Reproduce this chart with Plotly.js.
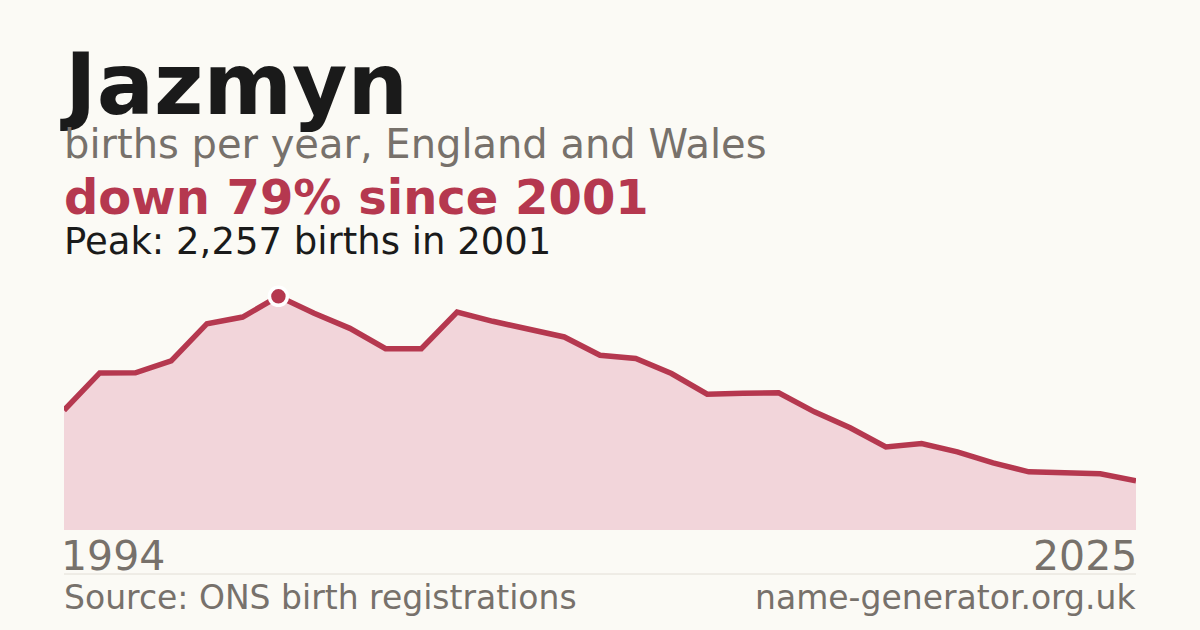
<!DOCTYPE html>
<html>
<head>
<meta charset="utf-8">
<script src="https://cdn.plot.ly/plotly-3.0.1.min.js"></script>
<style>
  html, body { margin: 0; padding: 0; background: #fbfaf5; }
  #chart { width: 1200px; height: 630px; }
</style>
</head>
<body>
<div id="chart"></div>
<script>
// births per year
var years = [1995, 1996, 1997, 1998, 1999, 2000, 2001, 2002, 2003, 2004, 2005,
             2006, 2007, 2008, 2009, 2010, 2011, 2012, 2013, 2014, 2015,
             2016, 2017, 2018, 2019, 2020, 2021, 2022, 2023, 2024, 2025];
var births = [1157, 1517, 1519, 1633, 1993, 2057, 2257, 2093, 1948, 1752, 1752,
              2106, 2016, 1939, 1865, 1688, 1656, 1511, 1312, 1320, 1326,
              1141, 987, 803, 836, 755, 649, 562, 556, 543, 476];
var axisLabels = ["1994", "2025"];

var name = "Jazmyn";
var subtitle = "births per year, England and Wales";
var headline = "down 79% since 2001";
var peakText = "Peak: 2,257 births in 2001";
var sourceText = "Source: ONS birth registrations";
var siteText = "name-generator.org.uk";

var red = "#b5384f";
var grey = "#77716b";
var bg = "#fbfaf5";
var font = "DejaVu Sans, sans-serif";

// plot box in pixels
var L = 64, R = 64, T = 280, B = 100, W = 1200, H = 630;
var plotW = W - L - R, plotH = H - T - B;
function px(x) { return (x - L) / plotW; }
function py(y) { return (H - B - y) / plotH; }
// put a line of text with its baseline at pixel y
function textAt(txt, x, base, size, color, bold, anchor) {
    return {
        text: bold ? "<b>" + txt + "</b>" : txt,
        xref: "paper", yref: "paper",
        x: px(x), y: py(base + 0.236 * size),
        xanchor: anchor || "left", yanchor: "bottom",
        showarrow: false, borderpad: 0,
        font: {family: font, size: size, color: color}
    };
}

var peak = Math.max.apply(null, births);
var peakYear = years[births.indexOf(peak)];

var area = {
    x: years, y: births,
    type: "scatter", mode: "lines",
    fill: "tozeroy", fillcolor: "#f2d5da",
    line: {color: red, width: 5.5, shape: "linear"},
    hoverinfo: "skip"
};
var dot = {
    x: [peakYear], y: [peak],
    type: "scatter", mode: "markers",
    marker: {size: 18, color: red, line: {color: "#ffffff", width: 3.5}},
    cliponaxis: false,
    hoverinfo: "skip"
};

var layout = {
    width: W, height: H,
    margin: {l: L, r: R, t: T, b: B, pad: 0},
    paper_bgcolor: bg, plot_bgcolor: bg,
    showlegend: false,
    xaxis: {range: [years[0], years[years.length - 1]], visible: false, fixedrange: true},
    yaxis: {range: [0, peak * 1.07], visible: false, fixedrange: true},
    shapes: [{
        type: "line", xref: "paper", yref: "paper",
        x0: 0, x1: 1, y0: py(574), y1: py(574),
        line: {color: "#e2ded6", width: 1}
    }],
    annotations: [
        textAt(name, 59, 115, 85, "#1a1a1a", true),
        textAt(subtitle, 63, 159, 40, grey, false),
        textAt(headline, 63, 215, 48, red, true),
        textAt(peakText, 63, 255, 37, "#1a1a1a", false),
        textAt(axisLabels[0], 60, 571, 41, grey, false),
        textAt(axisLabels[1], 1138, 571, 41, grey, false, "right"),
        textAt(sourceText, 63, 610, 33, grey, false),
        textAt(siteText, 1137, 610, 33, grey, false, "right")
    ]
};

Plotly.newPlot("chart", [area, dot], layout, {displayModeBar: false, staticPlot: true});
</script>
</body>
</html>
